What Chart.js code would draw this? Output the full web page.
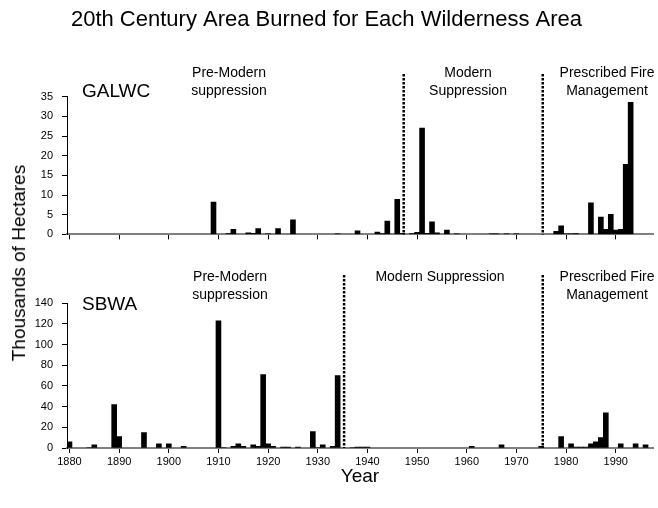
<!DOCTYPE html>
<html>
<head>
<meta charset="utf-8">
<script src="https://cdn.jsdelivr.net/npm/chart.js@4"></script>
<style>
  body { margin: 0; background: #fff; }
  #wrap { position: relative; width: 658px; height: 508px; font-family: "Liberation Sans", Arial, sans-serif; }
  #top { position: absolute; left: 0; top: 0; }
  #bottom { position: absolute; left: 0; top: 250px; }
  #ylabel {
    position: absolute; left: 19px; top: 263px;
    transform: translate(-50%, -50%) rotate(-90deg);
    font-size: 19px; white-space: nowrap; color: #000;
  }
</style>
</head>
<body>
<div id="wrap">
  <canvas id="top" width="658" height="250"></canvas>
  <canvas id="bottom" width="658" height="258"></canvas>
  <div id="ylabel">Thousands of Hectares</div>
</div>
<script>
// years on the axis
const firstYear = 1880;
const lastYear = 1997;
const years = [];
for (let y = firstYear; y <= lastYear; y++) years.push(y);

// area burned, thousands of hectares: [year, value]
const galwcBurned = [
  [1909, 8.2], [1912, 0.2], [1913, 1.3], [1916, 0.4], [1917, 0.3], [1918, 1.5],
  [1920, 0.1], [1922, 1.5], [1925, 3.7], [1934, 0.1], [1938, 0.9], [1942, 0.6],
  [1943, 0.2], [1944, 3.4], [1946, 8.9], [1947, 0.3], [1949, 0.2], [1950, 0.5],
  [1951, 27], [1952, 0.3], [1953, 3.2], [1954, 0.4], [1956, 1.1], [1958, 0.1],
  [1965, 0.1], [1966, 0.1], [1968, 0.1], [1970, 0.1], [1978, 0.8], [1979, 2.2],
  [1980, 0.1], [1981, 0.1], [1982, 0.2], [1985, 8.0], [1987, 4.4], [1988, 1.3],
  [1989, 5.1], [1990, 1.1], [1991, 1.3], [1992, 17.8], [1993, 33.6]
];
const sbwaBurned = [
  [1880, 6], [1884, 0.5], [1885, 3], [1889, 42], [1890, 11], [1895, 15],
  [1898, 4], [1900, 4], [1903, 1.5], [1910, 123], [1911, 0.5], [1913, 1.5],
  [1914, 4], [1915, 1.5], [1917, 3], [1918, 1.5], [1919, 71], [1920, 4],
  [1921, 1.5], [1923, 0.8], [1924, 1], [1926, 0.8], [1929, 16], [1930, 0.5],
  [1931, 3], [1933, 1.5], [1934, 70], [1937, 0.5], [1938, 1], [1939, 1],
  [1940, 1], [1961, 1.5], [1967, 3], [1975, 1.5], [1979, 11], [1981, 4],
  [1982, 0.8], [1983, 0.8], [1984, 0.8], [1985, 4], [1986, 6], [1987, 10],
  [1988, 34], [1991, 4], [1994, 4], [1996, 3]
];

// period boundaries (year) and y ticks
const galwcBreaks = [1947.3, 1975.3];
const sbwaBreaks = [1935.3, 1975.3];
const galwcYTicks = [0, 5, 10, 15, 20, 25, 30, 35];
const sbwaYTicks = [0, 20, 40, 60, 80, 100, 120, 140];

const toSeries = pairs => years.map(y => {
  const p = pairs.find(q => q[0] === y);
  return p ? p[1] : null;
});

Chart.defaults.font.family = '"Liberation Sans", Arial, sans-serif';
Chart.defaults.color = '#000';

// dotted period lines + text labels inside each panel
const panelText = {
  id: 'panelText',
  afterDatasetsDraw(chart, args, o) {
    const { ctx, chartArea } = chart;
    const x = chart.scales.x;
    ctx.save();
    ctx.strokeStyle = '#000';
    ctx.lineWidth = 2.5;
    ctx.setLineDash([2.5, 1.5]);
    o.breaks.forEach(b => {
      const px = x.getPixelForValue(b - firstYear);
      ctx.beginPath();
      ctx.moveTo(px, o.lineTop);
      ctx.lineTo(px, chartArea.bottom);
      ctx.stroke();
    });
    ctx.setLineDash([]);
    ctx.fillStyle = '#000';
    ctx.textBaseline = 'middle';
    ctx.textAlign = 'left';
    ctx.font = '19px "Liberation Sans", Arial, sans-serif';
    ctx.fillText(o.name, o.nameX, o.nameY);
    ctx.textAlign = 'center';
    ctx.font = '14px "Liberation Sans", Arial, sans-serif';
    o.labels.forEach(l => {
      l.lines.forEach((t, i) => ctx.fillText(t, l.x, o.textY + i * 18));
    });
    ctx.restore();
  }
};

function makeChart(id, values, yTicks, opts) {
  return new Chart(document.getElementById(id), {
    type: 'bar',
    data: {
      labels: years,
      datasets: [{
        data: toSeries(values),
        backgroundColor: '#000',
        borderWidth: 0,
        barPercentage: 1,
        categoryPercentage: 1
      }]
    },
    options: {
      responsive: false,
      animation: false,
      devicePixelRatio: 1,
      layout: { padding: { left: 0, right: 5, top: opts.padTop, bottom: 0 } },
      plugins: {
        legend: { display: false },
        tooltip: { enabled: false },
        title: opts.title,
        panelText: opts.panel
      },
      scales: {
        x: {
          type: 'category',
          offset: true,
          afterFit: s => { s.height = opts.xHeight; },
          border: { color: '#808080', width: 2 },
          grid: {
            offset: false,
            drawOnChartArea: false,
            tickLength: 5,
            color: c => (years[c.index] % 10 === 0 ? '#000' : 'rgba(0,0,0,0)')
          },
          ticks: {
            display: opts.xLabels,
            autoSkip: false,
            maxRotation: 0,
            padding: 2,
            font: { size: 11 },
            callback: (v, i) => (years[i] % 10 === 0 ? String(years[i]) : '')
          },
          title: opts.xTitle
        },
        y: {
          min: 0,
          max: yTicks[yTicks.length - 1],
          afterFit: s => { s.width = 67; },
          afterBuildTicks: s => { s.ticks = yTicks.map(v => ({ value: v })); },
          border: { color: '#000', width: 1 },
          grid: { drawOnChartArea: false, tickLength: 5, color: '#000' },
          ticks: { padding: 9, font: { size: 11 } }
        }
      }
    },
    plugins: [panelText]
  });
}

makeChart('top', galwcBurned, galwcYTicks, {
  padTop: 0,
  xHeight: 10,
  xLabels: false,
  xTitle: { display: false },
  title: {
    display: true,
    text: '20th Century Area Burned for Each Wilderness Area',
    font: { size: 22, weight: 'normal' },
    color: '#000',
    padding: { top: 7, bottom: 63.3 }
  },
  panel: {
    name: 'GALWC', nameX: 82, nameY: 92,
    breaks: galwcBreaks, lineTop: 74, textY: 73,
    labels: [
      { lines: ['Pre-Modern', 'suppression'], x: 229 },
      { lines: ['Modern', 'Suppression'], x: 468 },
      { lines: ['Prescribed Fire', 'Management'], x: 607 }
    ]
  }
});

makeChart('bottom', sbwaBurned, sbwaYTicks, {
  padTop: 53.3,
  xHeight: 60,
  xLabels: true,
  xTitle: { display: true, text: 'Year', font: { size: 19 }, color: '#000', padding: { top: 0, bottom: 20 } },
  title: { display: false },
  panel: {
    name: 'SBWA', nameX: 82, nameY: 54.5,
    breaks: sbwaBreaks, lineTop: 25, textY: 27,
    labels: [
      { lines: ['Pre-Modern', 'suppression'], x: 230 },
      { lines: ['Modern Suppression'], x: 440 },
      { lines: ['Prescribed Fire', 'Management'], x: 607 }
    ]
  }
});
</script>
</body>
</html>
